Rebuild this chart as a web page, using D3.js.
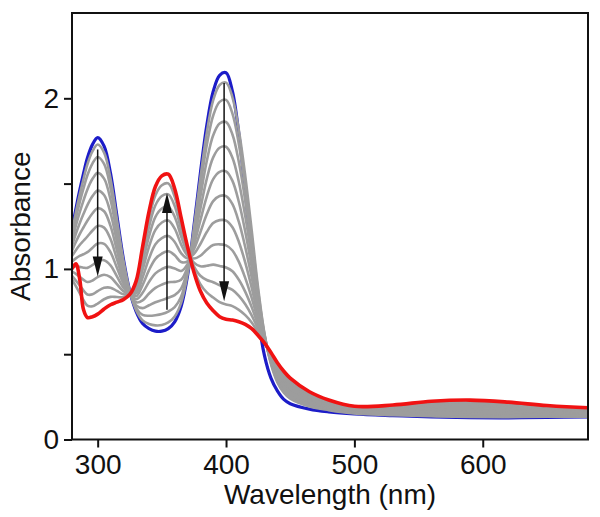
<!DOCTYPE html>
<html><head><meta charset="utf-8">
<script src="https://cdn.jsdelivr.net/npm/d3@7"></script>
<style>
html,body{margin:0;padding:0;background:#fff;}
svg{display:block;font-family:Helvetica,"Liberation Sans",Arial,sans-serif;}
</style></head><body>
<svg id="chart" width="600" height="517"></svg>
<script>
// ---- data ----
const wavelengths = [280,283,286,289,292,296,300,305,310,315,320,325,330,335,340,345,350,355,360,365,370,375,380,385,390,395,400,405,410,415,420,425,430,435,440,445,450,465,480,500,530,560,590,620,650,682];

const blueSpectrum = [1.23,1.35,1.46,1.56,1.65,1.73,1.77,1.72,1.56,1.31,1.06,0.87,0.75,0.68,0.65,0.635,0.635,0.65,0.69,0.78,0.96,1.25,1.56,1.84,2.04,2.135,2.15,2.04,1.79,1.45,1.08,0.72,0.49,0.36,0.285,0.235,0.21,0.178,0.162,0.15,0.14,0.132,0.128,0.127,0.13,0.132];

const redSpectrum = [1.00,1.03,0.94,0.76,0.715,0.72,0.735,0.765,0.79,0.805,0.82,0.85,0.93,1.13,1.335,1.483,1.545,1.555,1.47,1.30,1.13,0.98,0.87,0.80,0.755,0.72,0.705,0.70,0.69,0.675,0.65,0.61,0.565,0.51,0.45,0.40,0.36,0.28,0.232,0.195,0.202,0.224,0.231,0.219,0.199,0.186];

// intermediate (gray) spectra: one row per wavelength, 11 spectra per row
const grayRows = [
[1.218,1.196,1.168,1.137,1.106,1.075,1.044,1.013,0.985,0.960,0.939],
[1.331,1.297,1.254,1.206,1.158,1.110,1.062,1.014,0.971,0.932,0.899],
[1.434,1.390,1.332,1.268,1.204,1.140,1.076,1.012,0.954,0.903,0.858],
[1.528,1.473,1.402,1.323,1.244,1.165,1.086,1.007,0.936,0.873,0.817],
[1.613,1.549,1.466,1.374,1.282,1.190,1.098,1.006,0.923,0.850,0.785],
[1.690,1.619,1.528,1.427,1.326,1.225,1.124,1.023,0.932,0.851,0.781],
[1.729,1.656,1.563,1.459,1.356,1.252,1.149,1.045,0.952,0.870,0.797],
[1.682,1.615,1.529,1.433,1.338,1.242,1.147,1.051,0.966,0.889,0.822],
[1.529,1.475,1.406,1.329,1.252,1.175,1.098,1.021,0.952,0.890,0.836],
[1.290,1.254,1.209,1.158,1.108,1.057,1.007,0.956,0.911,0.871,0.835],
[1.050,1.034,1.012,0.988,0.964,0.940,0.916,0.892,0.870,0.851,0.834],
[0.869,0.868,0.866,0.864,0.862,0.860,0.858,0.856,0.854,0.853,0.851],
[0.757,0.770,0.786,0.804,0.822,0.840,0.858,0.876,0.892,0.907,0.919],
[0.698,0.730,0.770,0.815,0.860,0.905,0.950,0.995,1.036,1.072,1.103],
[0.677,0.725,0.787,0.856,0.924,0.993,1.061,1.130,1.191,1.246,1.294],
[0.669,0.728,0.805,0.889,0.974,1.059,1.144,1.229,1.305,1.373,1.432],
[0.671,0.735,0.817,0.908,0.999,1.090,1.181,1.272,1.354,1.427,1.490],
[0.686,0.750,0.831,0.922,1.012,1.103,1.193,1.284,1.365,1.437,1.501],
[0.721,0.776,0.846,0.924,1.002,1.080,1.158,1.236,1.306,1.369,1.423],
[0.801,0.837,0.884,0.936,0.988,1.040,1.092,1.144,1.191,1.232,1.269],
[0.967,0.979,0.994,1.011,1.028,1.045,1.062,1.079,1.094,1.108,1.120],
[1.239,1.220,1.196,1.169,1.142,1.115,1.088,1.061,1.037,1.015,0.996],
[1.532,1.484,1.422,1.353,1.284,1.215,1.146,1.077,1.015,0.960,0.911],
[1.798,1.726,1.632,1.528,1.424,1.320,1.216,1.112,1.018,0.935,0.862],
[1.989,1.899,1.783,1.654,1.526,1.397,1.269,1.140,1.025,0.922,0.832],
[2.078,1.979,1.852,1.710,1.569,1.427,1.286,1.144,1.017,0.904,0.805],
[2.092,1.991,1.861,1.716,1.572,1.427,1.283,1.138,1.008,0.893,0.792],
[2.006,1.910,1.788,1.652,1.516,1.380,1.244,1.108,0.986,0.877,0.782],
[1.813,1.731,1.626,1.509,1.392,1.275,1.158,1.041,0.936,0.842,0.760],
[1.544,1.480,1.399,1.308,1.218,1.127,1.037,0.946,0.865,0.793,0.729],
[1.226,1.184,1.130,1.070,1.010,0.950,0.890,0.830,0.776,0.728,0.686],
[0.888,0.868,0.842,0.813,0.784,0.755,0.726,0.697,0.671,0.648,0.627],
[0.618,0.614,0.609,0.603,0.598,0.592,0.587,0.581,0.577,0.572,0.568],
[0.443,0.448,0.454,0.461,0.468,0.475,0.482,0.489,0.495,0.501,0.506],
[0.335,0.343,0.354,0.366,0.378,0.390,0.402,0.414,0.425,0.434,0.443],
[0.275,0.284,0.296,0.309,0.322,0.335,0.348,0.361,0.373,0.383,0.392],
[0.240,0.249,0.260,0.273,0.285,0.298,0.310,0.323,0.334,0.344,0.353],
[0.194,0.200,0.208,0.217,0.226,0.235,0.244,0.253,0.261,0.268,0.275],
[0.172,0.177,0.182,0.189,0.195,0.201,0.207,0.213,0.219,0.224,0.228],
[0.152,0.155,0.159,0.164,0.169,0.174,0.178,0.183,0.187,0.191,0.194],
[0.142,0.147,0.152,0.158,0.164,0.170,0.176,0.182,0.187,0.192,0.196],
[0.136,0.142,0.151,0.160,0.169,0.179,0.188,0.197,0.205,0.213,0.219],
[0.132,0.139,0.148,0.159,0.169,0.179,0.189,0.199,0.209,0.217,0.224],
[0.131,0.137,0.145,0.154,0.163,0.172,0.181,0.190,0.198,0.205,0.212],
[0.133,0.137,0.144,0.150,0.157,0.164,0.171,0.178,0.184,0.189,0.194],
[0.134,0.138,0.143,0.148,0.154,0.159,0.164,0.170,0.175,0.179,0.183]
];

const xTicks = [300,400,500,600];
const yTicks = [0,0.5,1,1.5,2];
const yTickLabels = ["0","","1","","2"];
const xDomain = [280,682];
const yDomain = [0,2.5];
const xTitle = "Wavelength (nm)";
const yTitle = "Absorbance";
// arrows: wavelength, start absorbance, end (tip) absorbance
const arrowNm = [300,354,398.5];
const arrowFrom = [1.70,0.76,2.09];
const arrowTo = [0.955,1.445,0.81];

// ---- drawing ----
const svg = d3.select("#chart");
const plot = {left:72,right:588,top:13,bottom:439.5};
const x = d3.scaleLinear().domain(xDomain).range([plot.left,plot.right]);
const y = d3.scaleLinear().domain(yDomain).range([plot.bottom,plot.top]);

svg.append("defs").append("clipPath").attr("id","clip")
  .append("rect").attr("x",plot.left).attr("y",plot.top)
  .attr("width",plot.right-plot.left).attr("height",plot.bottom-plot.top);

const line = d3.line().x(d=>x(d[0])).y(d=>y(d[1])).curve(d3.curveCatmullRom.alpha(0.5));
const toPts = arr => wavelengths.map((w,i)=>[w,arr[i]]);
const grayCount = grayRows[0].length;
const graySeries = d3.range(grayCount).map(k => grayRows.map(r => r[k]));

const g = svg.append("g").attr("clip-path","url(#clip)");
g.append("path").attr("d",line(toPts(blueSpectrum)))
  .attr("fill","none").attr("stroke","#1c1cc8").attr("stroke-width",3.2).attr("stroke-linejoin","round");
graySeries.forEach(s=>{
  g.append("path").attr("d",line(toPts(s)))
    .attr("fill","none").attr("stroke","#9d9d9d").attr("stroke-width",2.6).attr("stroke-linejoin","round");
});
g.append("path").attr("d",line(toPts(redSpectrum)))
  .attr("fill","none").attr("stroke","#f01212").attr("stroke-width",3.6).attr("stroke-linejoin","round");

// arrows
const headLen = 20, headHalf = 5;
arrowNm.forEach((nm,i)=>{
  const px = x(nm), y0 = y(arrowFrom[i]), y1 = y(arrowTo[i]);
  const dir = y1 > y0 ? 1 : -1;
  const base = y1 - dir*headLen;
  svg.append("line").attr("x1",px).attr("x2",px).attr("y1",y0).attr("y2",base+dir*2)
    .attr("stroke","#111").attr("stroke-width",1.5);
  svg.append("path").attr("d",`M${px},${y1}L${px-headHalf},${base}L${px+headHalf},${base}Z`)
    .attr("fill","#111");
});

// axes
const fs = 28;
const xAxis = d3.axisBottom(x).tickValues(xTicks).tickSize(8).tickPadding(7).tickFormat(d3.format("d"));
const xg = svg.append("g").attr("transform",`translate(0,${plot.bottom})`).call(xAxis);
const yAxis = d3.axisLeft(y).tickValues(yTicks).tickSize(8).tickPadding(5)
  .tickFormat((d,i)=>yTickLabels[i]);
const yg = svg.append("g").attr("transform",`translate(${plot.left},0)`).call(yAxis);
[xg,yg].forEach(a=>{
  a.select(".domain").remove();
  a.selectAll(".tick line").attr("stroke","#111").attr("stroke-width",2);
  a.selectAll(".tick text").attr("fill","#111").style("font-size",fs+"px")
    .style("font-family","Helvetica,'Liberation Sans',Arial,sans-serif");
});

// frame
svg.append("rect").attr("x",plot.left).attr("y",plot.top)
  .attr("width",plot.right-plot.left).attr("height",plot.bottom-plot.top)
  .attr("fill","none").attr("stroke","#111").attr("stroke-width",2);

// titles
svg.append("text").attr("x",(plot.left+plot.right)/2).attr("y",504)
  .attr("text-anchor","middle").style("font-size",fs+"px").attr("fill","#111").text(xTitle);
svg.append("text").attr("transform",`translate(30,${(plot.top+plot.bottom)/2}) rotate(-90)`)
  .attr("text-anchor","middle").style("font-size",fs+"px").attr("fill","#111").text(yTitle);
</script>
</body></html>
